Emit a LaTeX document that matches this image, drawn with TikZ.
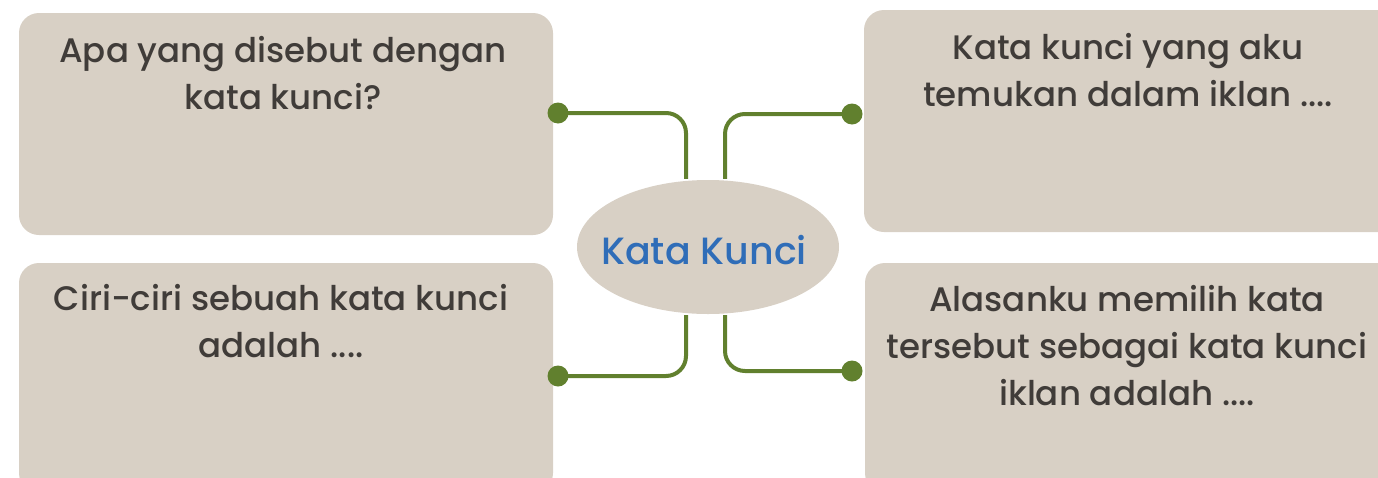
\documentclass[tikz,border=0pt]{standalone}
\usepackage{fontspec}
\setmainfont{Poppins}[UprightFont=* Medium]
\usetikzlibrary{shapes.geometric}
\definecolor{boxfill}{HTML}{D8D0C5}
\definecolor{leaf}{HTML}{61802E}
\definecolor{txtgray}{HTML}{403C39}
\definecolor{kblue}{HTML}{2F6DB8}
\tikzset{
  qbox/.style={rectangle, rounded corners=20pt, fill=boxfill, draw=none, inner sep=0pt},
  qtext/.style={anchor=north, align=center, text=txtgray, font=\fontsize{34}{47}\selectfont, inner sep=0pt},
  hub/.style={ellipse, fill=boxfill, draw=none, minimum width=262pt, minimum height=134pt, inner sep=0pt},
  hubtext/.style={text=kblue, font=\fontsize{38}{44}\selectfont, inner sep=0pt},
  dotnode/.style={circle, fill=leaf, draw=none, minimum size=21pt, inner sep=0pt},
  conn/.style={draw=leaf, line width=4pt, rounded corners=20pt}
}
\begin{document}
\begin{tikzpicture}[x=1pt, y=-1pt]
\useasboundingbox (0,0) rectangle (1378,477);
% boxes
\node[qbox, minimum width=534pt, minimum height=222pt] (q1) at (286,124) {};
\node[qbox, minimum width=534pt, minimum height=230pt] (q2) at (286,378) {};
\node[qbox, minimum width=540pt, minimum height=222pt] (q3) at (1134,121) {};
\node[qbox, minimum width=540pt, minimum height=230pt] (q4) at (1135,378) {};
% texts
\node[qtext] (t1) at (283,36) {Apa yang disebut dengan\\kata kunci?};
\node[qtext] (t2) at (281,284) {Ciri-ciri sebuah kata kunci\\adalah ....};
\node[qtext] (t3) at (1128,33) {Kata kunci yang aku\\temukan dalam iklan ....};
\node[qtext] (t4) at (1127,285) {Alasanku memilih kata\\tersebut sebagai kata kunci\\iklan adalah ....};
% hub
\node[hub] (hubn) at (708,247) {};
\node[hubtext] (hubt) at (704,250) {Kata Kunci};
% dots
\node[dotnode] (d1) at (558,113) {};
\node[dotnode] (d2) at (558,376) {};
\node[dotnode] (d3) at (852,114) {};
\node[dotnode] (d4) at (852,371) {};
% connectors
\draw[conn] (d1.center) -| ([xshift=-22pt,yshift=1pt]hubn.north);
\draw[conn] (d3.center) -| ([xshift=17pt,yshift=1pt]hubn.north);
\draw[conn] (d2.center) -| ([xshift=-22pt,yshift=-1pt]hubn.south);
\draw[conn] (d4.center) -| ([xshift=17pt,yshift=-1pt]hubn.south);
\end{tikzpicture}
\end{document}
